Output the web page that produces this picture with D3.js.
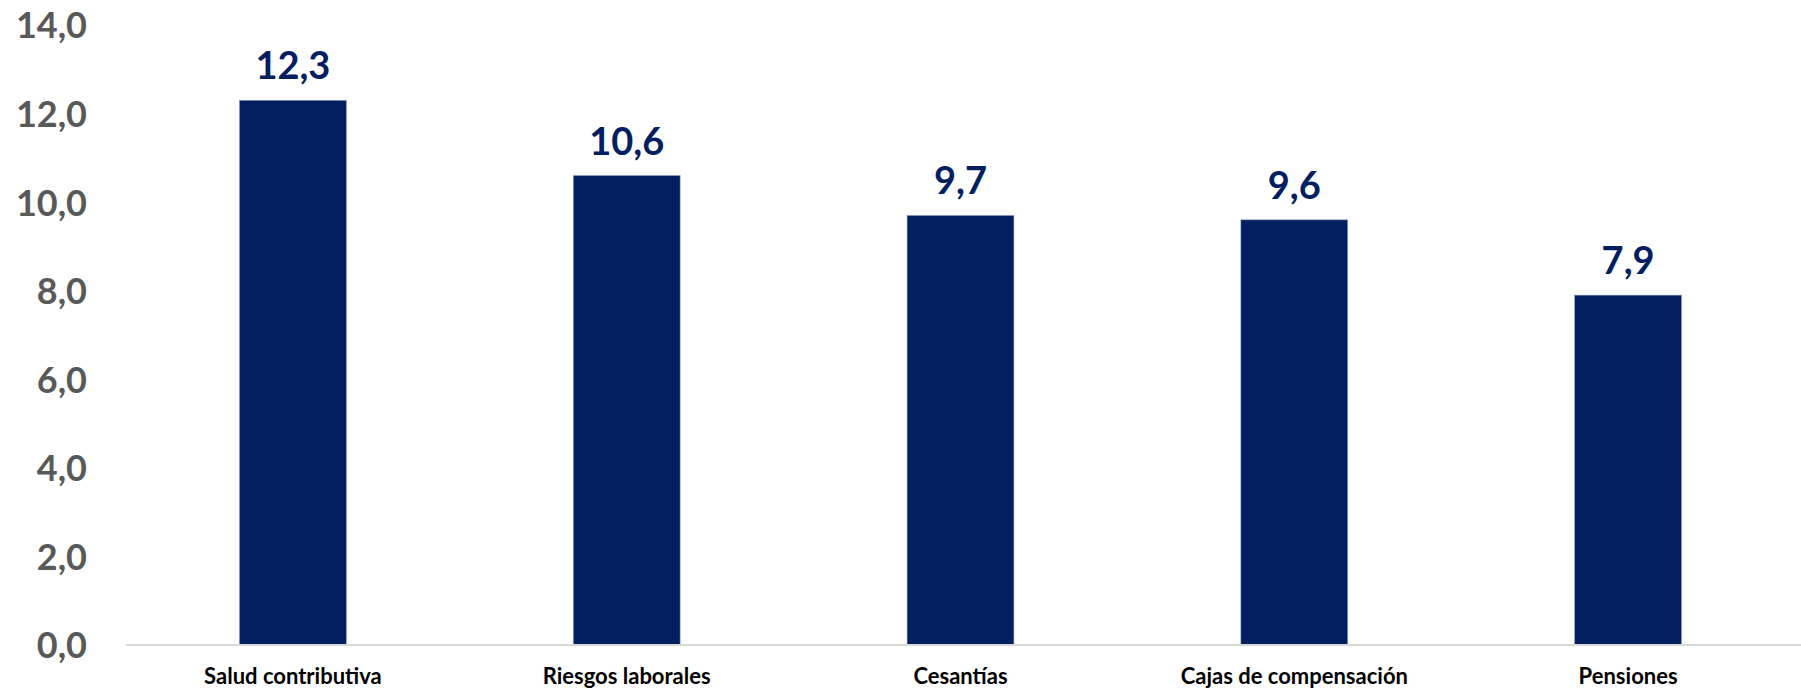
<!DOCTYPE html>
<html><head><meta charset="utf-8">
<script src="https://cdn.jsdelivr.net/npm/d3@7"></script>
<style>html,body{margin:0;padding:0;background:#fff;} svg{display:block;}</style>
</head><body>
<svg id="chart" width="1801" height="688"></svg>
<script>
const categories = ["Salud contributiva", "Riesgos laborales", "Cesantías", "Cajas de compensación", "Pensiones"];
const values = [12.3, 10.6, 9.7, 9.6, 7.9];
const yTicks = [0, 2, 4, 6, 8, 10, 12, 14];

const svg = d3.select("#chart");
const W = 1801, H = 688;
const m = {left: 126, right: 6, top: 25, bottom: 43};
const font = "Lato, 'Open Sans', sans-serif";
const fmt = v => d3.format(".1f")(v).replace(".", ",");

const x = d3.scaleBand().domain(categories).range([m.left, W - m.right]).paddingInner(0.68).paddingOuter(0.34);
const y = d3.scaleLinear().domain([0, 14]).range([H - m.bottom, m.top]);

// y axis labels
const yAxis = d3.axisLeft(y).tickValues(yTicks).tickFormat(fmt).tickSize(0).tickPadding(0);
const gy = svg.append("g").attr("transform", "translate(87,0)").call(yAxis);
gy.select(".domain").remove();
gy.selectAll("text").attr("fill", "#595959").style("font-family", font).style("font-weight", "700").style("font-size", "36px").attr("dy", "0.36em");

// bars
svg.append("g").selectAll("rect").data(values).join("rect")
  .attr("x", (d, i) => x(categories[i]))
  .attr("width", x.bandwidth())
  .attr("y", d => y(d))
  .attr("height", d => y(0) - y(d))
  .attr("fill", "#02205F")
  .attr("stroke", "#8a9cc0").attr("stroke-width", 0.6);

// baseline
const xAxis = d3.axisBottom(x).tickSize(0).tickPadding(0);
const gx = svg.append("g").attr("transform", `translate(0,${y(0)})`).call(xAxis);
gx.select(".domain").attr("stroke", "#d9d9d9").attr("stroke-width", 2).attr("d", `M${m.left},0H${W}`);
gx.selectAll("text").attr("y", 39).attr("dy", 0).attr("fill", "#000")
  .style("font-family", font).style("font-weight", "700").style("font-size", "22px");

// value labels
svg.append("g").selectAll("text").data(values).join("text")
  .attr("x", (d, i) => x(categories[i]) + x.bandwidth() / 2)
  .attr("y", d => y(d) - 21)
  .attr("text-anchor", "middle")
  .attr("fill", "#02205F")
  .style("font-family", font).style("font-weight", "700").style("font-size", "38px")
  .text(fmt);
</script>
</body></html>
